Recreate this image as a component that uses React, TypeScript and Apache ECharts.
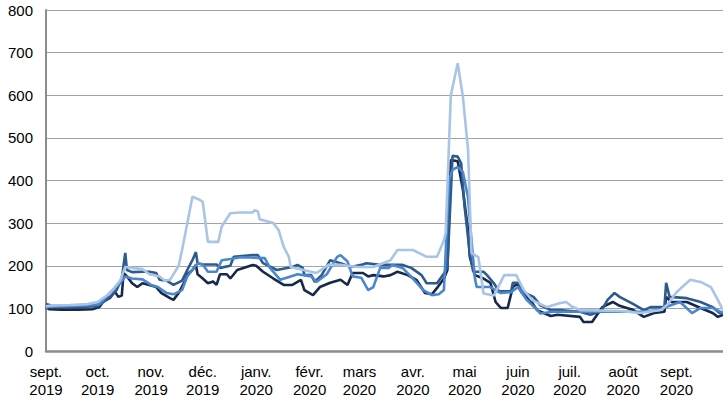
import React, { useEffect, useRef } from "react";
import * as echarts from "echarts";

const START_DATE = "2019-09-01";
const END_DATE = "2020-09-28";
const MONTH_LABELS = ["janv.", "févr.", "mars", "avr.", "mai", "juin", "juil.", "août", "sept.", "oct.", "nov.", "déc."];
const Y_TICKS = [0, 100, 200, 300, 400, 500, 600, 700, 800];

const SERIES_NAMES = ["Série 1", "Série 2", "Série 3", "Série 4"];
const SERIES_COLORS = ["#17294a", "#2d5b8e", "#4a87d0", "#a8c4e6"];

const series1: [string, number][] = [
  ["2019-09-01",102],["2019-09-03",98],["2019-09-10",97],["2019-09-20",97],["2019-09-28",98],["2019-10-02",103],["2019-10-04",115],["2019-10-08",124],["2019-10-11",139],["2019-10-13",127],["2019-10-15",130],["2019-10-16",183],["2019-10-18",175],["2019-10-21",159],["2019-10-24",150],["2019-10-27",159],["2019-10-31",155],["2019-11-04",150],["2019-11-07",136],["2019-11-12",124],["2019-11-14",120],["2019-11-17",136],["2019-11-21",167],["2019-11-22",180],["2019-11-25",190],["2019-11-27",202],["2019-11-28",180],["2019-12-01",170],["2019-12-04",159],["2019-12-07",163],["2019-12-09",155],["2019-12-11",180],["2019-12-15",180],["2019-12-17",170],["2019-12-21",190],["2019-12-30",202],["2020-01-01",200],["2020-01-05",186],["2020-01-11",170],["2020-01-17",155],["2020-01-22",155],["2020-01-27",167],["2020-01-29",143],["2020-02-03",131],["2020-02-07",150],["2020-02-13",160],["2020-02-19",167],["2020-02-23",155],["2020-02-26",183],["2020-03-03",183],["2020-03-06",175],["2020-03-09",178],["2020-03-15",175],["2020-03-19",178],["2020-03-23",186],["2020-03-29",178],["2020-04-03",167],["2020-04-08",136],["2020-04-12",133],["2020-04-15",148],["2020-04-19",170],["2020-04-21",190],["2020-04-23",448],["2020-04-27",445],["2020-04-30",378],["2020-05-03",284],["2020-05-04",221],["2020-05-07",178],["2020-05-12",170],["2020-05-16",160],["2020-05-19",115],["2020-05-22",101],["2020-05-26",101],["2020-05-29",150],["2020-06-01",159],["2020-06-03",138],["2020-06-08",120],["2020-06-12",96],["2020-06-20",82],["2020-06-24",85],["2020-07-07",80],["2020-07-09",68],["2020-07-14",68],["2020-07-16",80],["2020-07-20",103],["2020-07-26",115],["2020-07-30",106],["2020-08-07",96],["2020-08-13",80],["2020-08-19",89],["2020-08-25",92],["2020-08-26",127],["2020-08-29",115],["2020-09-07",115],["2020-09-15",101],["2020-09-22",89],["2020-09-25",80],["2020-09-28",85]
];

const series2: [string, number][] = [
  ["2019-09-01",110],["2019-09-03",108],["2019-09-05",104],["2019-09-15",103],["2019-09-25",104],["2019-10-01",105],["2019-10-08",127],["2019-10-12",143],["2019-10-15",170],["2019-10-17",230],["2019-10-18",190],["2019-10-21",185],["2019-10-27",186],["2019-10-31",186],["2019-11-04",183],["2019-11-06",167],["2019-11-10",165],["2019-11-14",155],["2019-11-19",165],["2019-11-22",190],["2019-11-25",213],["2019-11-27",232],["2019-11-28",206],["2019-12-01",203],["2019-12-09",203],["2019-12-11",195],["2019-12-17",200],["2019-12-19",221],["2019-12-30",225],["2020-01-02",225],["2020-01-05",206],["2020-01-13",190],["2020-01-22",197],["2020-01-25",202],["2020-01-28",195],["2020-01-29",178],["2020-02-02",178],["2020-02-04",162],["2020-02-08",178],["2020-02-13",213],["2020-02-19",206],["2020-02-25",197],["2020-03-02",202],["2020-03-05",206],["2020-03-13",202],["2020-03-26",202],["2020-03-31",195],["2020-04-06",178],["2020-04-09",159],["2020-04-15",159],["2020-04-19",182],["2020-04-21",195],["2020-04-24",458],["2020-04-27",456],["2020-04-29",440],["2020-05-01",338],["2020-05-04",230],["2020-05-06",186],["2020-05-12",186],["2020-05-14",178],["2020-05-18",159],["2020-05-21",140],["2020-05-28",140],["2020-05-29",160],["2020-06-01",160],["2020-06-04",138],["2020-06-10",127],["2020-06-14",107],["2020-06-20",96],["2020-06-25",96],["2020-07-07",92],["2020-07-13",85],["2020-07-16",89],["2020-07-19",92],["2020-07-23",120],["2020-07-27",136],["2020-07-30",127],["2020-08-07",110],["2020-08-13",96],["2020-08-17",103],["2020-08-25",103],["2020-08-26",160],["2020-08-28",127],["2020-09-07",124],["2020-09-15",115],["2020-09-22",103],["2020-09-26",89],["2020-09-28",90]
];

const series3: [string, number][] = [
  ["2019-09-01",100],["2019-09-03",104],["2019-09-10",105],["2019-09-20",106],["2019-09-28",108],["2019-10-02",110],["2019-10-08",136],["2019-10-14",159],["2019-10-17",175],["2019-10-21",170],["2019-10-27",168],["2019-11-01",155],["2019-11-05",150],["2019-11-10",136],["2019-11-14",133],["2019-11-19",143],["2019-11-22",175],["2019-11-28",206],["2019-12-01",203],["2019-12-04",186],["2019-12-09",186],["2019-12-12",213],["2019-12-17",216],["2019-12-23",220],["2020-01-06",218],["2020-01-09",195],["2020-01-15",167],["2020-01-21",175],["2020-01-25",180],["2020-02-02",175],["2020-02-05",162],["2020-02-11",180],["2020-02-17",221],["2020-02-19",225],["2020-02-23",210],["2020-02-26",175],["2020-03-02",172],["2020-03-06",143],["2020-03-09",150],["2020-03-13",195],["2020-03-18",195],["2020-03-20",202],["2020-03-26",195],["2020-04-01",170],["2020-04-07",143],["2020-04-12",131],["2020-04-16",133],["2020-04-19",143],["2020-04-22",401],["2020-04-24",425],["2020-04-27",432],["2020-04-30",420],["2020-05-03",360],["2020-05-05",260],["2020-05-07",170],["2020-05-08",150],["2020-05-16",150],["2020-05-22",136],["2020-05-28",138],["2020-06-01",150],["2020-06-03",138],["2020-06-06",120],["2020-06-11",101],["2020-06-14",88],["2020-06-21",92],["2020-07-07",92],["2020-07-27",92],["2020-08-11",92],["2020-08-22",96],["2020-08-27",105],["2020-09-03",115],["2020-09-10",89],["2020-09-15",101],["2020-09-22",101],["2020-09-28",89]
];

const series4: [string, number][] = [
  ["2019-09-01",105],["2019-09-05",107],["2019-09-15",108],["2019-09-25",110],["2019-10-01",115],["2019-10-08",135],["2019-10-14",165],["2019-10-17",197],["2019-10-21",195],["2019-10-27",192],["2019-10-31",180],["2019-11-06",175],["2019-11-09",165],["2019-11-12",167],["2019-11-17",200],["2019-11-19",237],["2019-11-25",362],["2019-11-29",355],["2019-12-01",350],["2019-12-04",256],["2019-12-10",256],["2019-12-12",292],["2019-12-17",323],["2019-12-22",325],["2019-12-30",325],["2019-12-31",330],["2020-01-02",328],["2020-01-03",309],["2020-01-11",300],["2020-01-14",284],["2020-01-17",244],["2020-01-20",221],["2020-01-21",197],["2020-02-05",183],["2020-02-12",202],["2020-02-19",202],["2020-02-29",197],["2020-03-09",197],["2020-03-19",213],["2020-03-23",237],["2020-04-01",237],["2020-04-09",221],["2020-04-15",221],["2020-04-19",260],["2020-04-20",277],["2020-04-23",600],["2020-04-27",675],["2020-04-30",597],["2020-05-03",472],["2020-05-05",230],["2020-05-09",220],["2020-05-12",135],["2020-05-18",130],["2020-05-24",178],["2020-05-31",178],["2020-06-04",145],["2020-06-09",120],["2020-06-15",108],["2020-06-18",103],["2020-06-25",112],["2020-06-29",115],["2020-07-02",105],["2020-07-07",96],["2020-07-30",94],["2020-08-11",89],["2020-08-23",96],["2020-08-27",110],["2020-09-01",138],["2020-09-09",167],["2020-09-15",162],["2020-09-21",150],["2020-09-25",120],["2020-09-28",96]
];

const ALL_SERIES = [series1, series2, series3, series4];

function buildDates(start: string, end: string): string[] {
  const out: string[] = [];
  const d = new Date(start + "T00:00:00Z");
  const e = new Date(end + "T00:00:00Z");
  while (d.getTime() <= e.getTime()) {
    out.push(d.toISOString().slice(0, 10));
    d.setUTCDate(d.getUTCDate() + 1);
  }
  return out;
}

const FONT = "'Liberation Sans', Arial, sans-serif";

export default function App() {
  const ref = useRef<HTMLDivElement>(null);
  useEffect(() => {
    if (!ref.current) return;
    const chart = echarts.init(ref.current, undefined, { renderer: "svg" });
    const dates = buildDates(START_DATE, END_DATE);
    const indexOf = new Map(dates.map((d, i) => [d, i]));
    chart.setOption({
      animation: false,
      grid: { left: 46, right: 0, top: 10, bottom: 52, containLabel: false },
      xAxis: {
        type: "category",
        data: dates,
        boundaryGap: false,
        axisLine: { show: true, lineStyle: { color: "#8c8c8c", width: 2.5 } },
        axisTick: { show: false },
        splitLine: { show: false },
        axisLabel: {
          interval: (_i: number, v: string) => v.endsWith("-01"),
          formatter: (v: string) => {
            const m = parseInt(v.slice(5, 7), 10);
            return MONTH_LABELS[m - 1] + "\n" + v.slice(0, 4);
          },
          color: "#000",
          fontFamily: FONT,
          fontSize: 15,
          lineHeight: 18,
          margin: 11,
        },
      },
      yAxis: {
        type: "value",
        min: Y_TICKS[0],
        max: Y_TICKS[Y_TICKS.length - 1],
        interval: 100,
        axisLine: { show: true, lineStyle: { color: "#8c8c8c", width: 2 } },
        axisTick: { show: false },
        splitLine: { show: true, lineStyle: { color: "#a3a3a3", width: 1.2 } },
        axisLabel: { color: "#000", fontFamily: FONT, fontSize: 15, margin: 13 },
      },
      series: ALL_SERIES.map((s, k) => ({
        name: SERIES_NAMES[k],
        type: "line",
        showSymbol: false,
        symbol: "none",
        data: s.map(([d, v]) => [indexOf.get(d), v]),
        lineStyle: { color: SERIES_COLORS[k], width: 2.6 },
        itemStyle: { color: SERIES_COLORS[k] },
        z: 2 + k,
      })),
    });
    return () => chart.dispose();
  }, []);
  return <div ref={ref} style={{ width: 723, height: 403, position: "absolute", left: 0, top: 0 }} />;
}
